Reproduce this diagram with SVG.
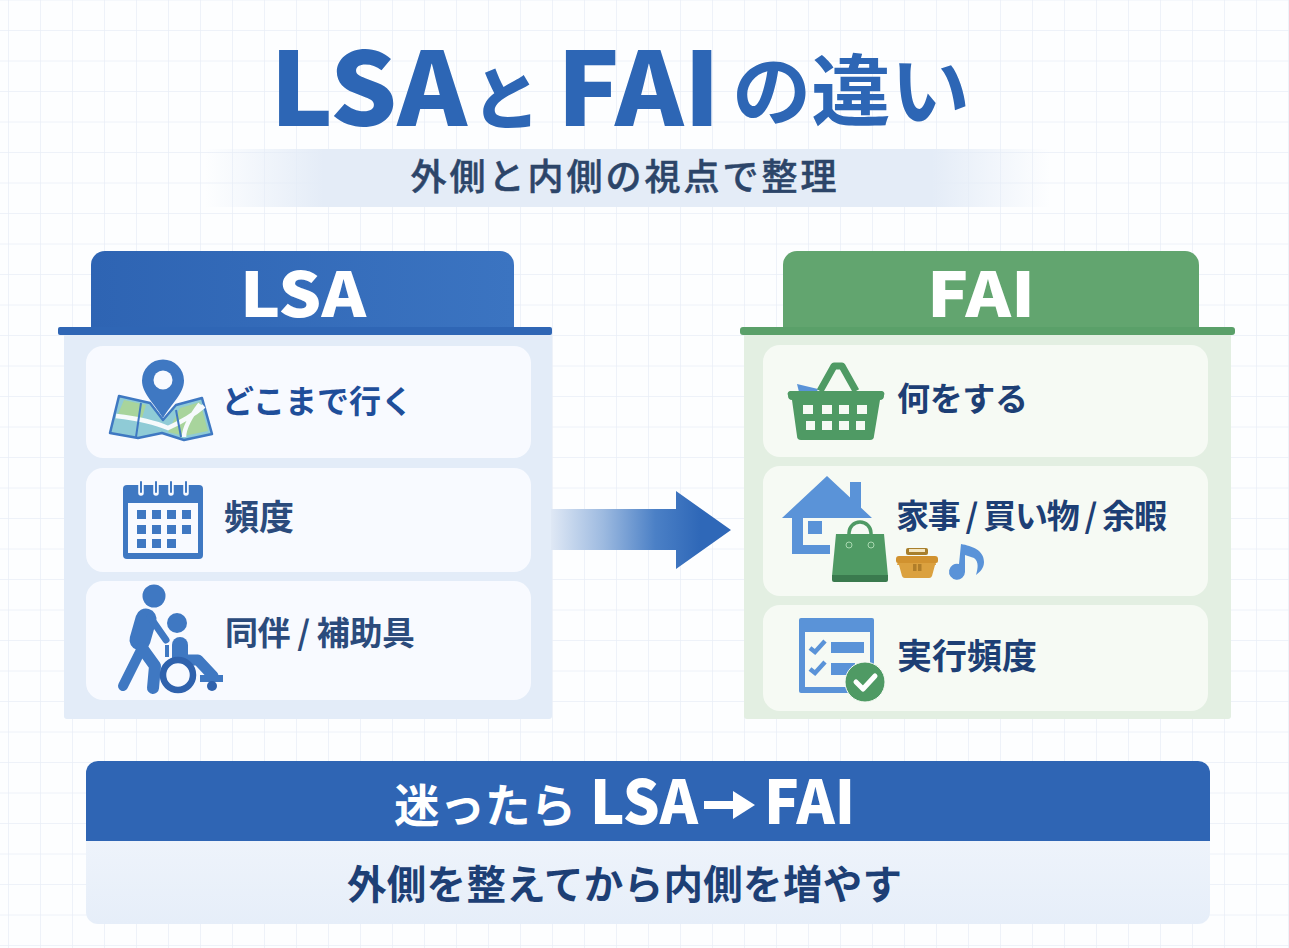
<svg xmlns="http://www.w3.org/2000/svg" width="1289" height="948" viewBox="0 0 1289 948">
<style>
text{font-family:"Noto Sans CJK JP","Noto Sans",sans-serif;font-weight:700}
.t{fill:#2d66b5;font-weight:900}.w{fill:#fff;font-weight:900}.item{fill:#f8faff}.gitem{fill:#f6faf4}
.b{fill:#3f78c2}.lb{fill:#5a93d8}.g{fill:#4f9a64}
.gl{stroke:#e9eef7;stroke-width:1.5;fill:none}
.bs{stroke:#3f78c2;fill:none;stroke-linecap:round;stroke-linejoin:round}
</style>
<defs>
<linearGradient id="band"><stop offset="0" stop-color="#e4ecf7" stop-opacity="0"/><stop offset=".14" stop-color="#e4ecf7"/><stop offset=".86" stop-color="#e4ecf7"/><stop offset="1" stop-color="#e4ecf7" stop-opacity="0"/></linearGradient>
<linearGradient id="shaft" gradientUnits="userSpaceOnUse" x1="551" y1="0" x2="700" y2="0"><stop offset="0" stop-color="#dfe8f5"/><stop offset=".35" stop-color="#9dbae0"/><stop offset=".7" stop-color="#4b80c6"/><stop offset="1" stop-color="#2f68b8"/></linearGradient>
<linearGradient id="bt" x1="0" y1="0" x2="1" y2="0"><stop offset="0" stop-color="#2e64b3"/><stop offset="1" stop-color="#3b74c1"/></linearGradient>
<linearGradient id="lp" x1="0" y1="0" x2="0" y2="1"><stop offset="0" stop-color="#eff4fb"/><stop offset="1" stop-color="#e6eef9"/></linearGradient>
<pattern id="grid" patternUnits="userSpaceOnUse" x="8" y="0.5" width="32" height="30.5"><path class="gl" d="M0 0V30.5M0 30.5H32"/></pattern>
</defs>
<rect width="1289" height="948" fill="#fdfeff"/>
<rect width="1289" height="948" fill="url(#grid)"/>

<g id="title">
<text class="t" x="270" y="126" font-size="102" textLength="197" lengthAdjust="spacingAndGlyphs">LSA</text>
<text class="t" x="472" y="124" font-size="68">と</text>
<text class="t" x="557" y="126" font-size="102" textLength="163" lengthAdjust="spacingAndGlyphs">FAI</text>
<text class="t" x="732" y="120" font-size="78" textLength="238" lengthAdjust="spacingAndGlyphs" style="font-weight:700">の違い</text>
</g>
<g id="subtitle">
<rect x="205" y="149" width="845" height="58" fill="url(#band)"/>
<text x="625" y="190" font-size="36" fill="#2c4569" stroke="#2c4569" stroke-width=".5" text-anchor="middle" letter-spacing="3" style="font-weight:500">外側と内側の視点で整理</text>
</g>

<g id="lsa-panel">
<rect x="64" y="333" width="488" height="386" rx="3" fill="#e3ecf8"/>
<path d="M91 328V265a14 14 0 0 1 14-14H500a14 14 0 0 1 14 14V328Z" fill="url(#bt)"/>
<rect x="58" y="327" width="494" height="8" rx="2" fill="#2f66b5"/>
<text class="w" x="303" y="317" font-size="62" text-anchor="middle" textLength="126" lengthAdjust="spacingAndGlyphs">LSA</text>
</g>
<g id="lsa-where">
<rect class="item" x="86" y="346" width="445" height="112" rx="17"/>
<path d="M119 396L150 403 163 420 176 405 202 398 212 434 184 440 162 433 138 438 110 433Z" fill="#8fcbd6" stroke="#3f78c2" stroke-width="2.500" stroke-linejoin="round"/>
<path d="M124 400L146 405 142 418 118 414ZM168 432L180 408 200 402 208 431 184 436Z" fill="#a8d49c"/>
<path d="M116 416Q150 420 168 428 190 418 204 406M184 437Q184 425 200 404" fill="none" stroke="#f6fafc" stroke-width="4.500"/>
<path d="M141 403L136 437M176 410L181 437" stroke="#3f78c2" stroke-width="2"/>
<path d="M163 418C155 404 142 394 142 380.500a21 21 0 0 1 42 0C184 394 171 404 163 418Z" class="b"/><circle cx="163" cy="380" r="9.500" fill="#f8faff"/>
<text x="222" y="413" font-size="32" fill="#1f4e9a">どこまで行く</text>
</g>
<g id="lsa-frequency">
<rect class="item" x="86" y="468" width="445" height="104" rx="17"/>
<rect class="b" x="123" y="485" width="80" height="74" rx="4"/><rect x="128" y="503" width="70" height="50" fill="#f8faff"/>
<g class="b"><rect x="137" y="510" width="9" height="9"/><rect x="152" y="510" width="9" height="9"/><rect x="167" y="510" width="9" height="9"/><rect x="182" y="510" width="9" height="9"/><rect x="137" y="525" width="9" height="9"/><rect x="152" y="525" width="9" height="9"/><rect x="167" y="525" width="9" height="9"/><rect x="182" y="525" width="9" height="9"/><rect x="137" y="539" width="9" height="9"/><rect x="152" y="539" width="9" height="9"/><rect x="167" y="539" width="9" height="9"/></g>
<path d="M141 483V493M156 483V493M171 483V493M186 483V493" stroke="#f8faff" stroke-width="5.500" stroke-linecap="round"/><path d="M141 482V492M156 482V492M171 482V492M186 482V492" stroke="#3f78c2" stroke-width="2" stroke-linecap="round"/>
<text x="224" y="530" font-size="35" fill="#2b4b7c">頻度</text>
</g>
<g id="lsa-companion">
<rect class="item" x="86" y="581" width="445" height="119" rx="17"/>
<circle class="b" cx="154" cy="596" r="11.500"/>
<path class="bs" d="M146 619L140 640" stroke-width="21"/>
<path class="bs" d="M150 617L166 640" stroke-width="7"/>
<path class="bs" d="M142 648L123 686" stroke-width="10"/>
<path class="bs" d="M142 648L155 666 153 688" stroke-width="12"/>
<circle class="b" cx="177" cy="623" r="10"/>
<path class="bs" d="M180 645V658" stroke-width="16"/>
<path class="bs" d="M180 660H198L213 676" stroke-width="11"/>
<rect class="b" x="165" y="645" width="4" height="12"/>
<circle cx="178" cy="675" r="15" fill="#f8faff" stroke="#2f62ad" stroke-width="6.500"/>
<rect class="b" x="200" y="675" width="23" height="7"/><circle cx="212" cy="686" r="5" fill="#2f62ad"/>
<text x="225" y="645" font-size="33" fill="#2b4b7c" textLength="190" lengthAdjust="spacing">同伴 / 補助具</text>
</g>

<g id="fai-panel">
<rect x="744" y="333" width="487" height="386" rx="3" fill="#e3efe2"/>
<path d="M783 328V265a14 14 0 0 1 14-14H1185a14 14 0 0 1 14 14V328Z" fill="#62a56f"/>
<rect x="740" y="327" width="495" height="8" rx="3" fill="#5aa069"/>
<text class="w" x="981" y="317" font-size="62" text-anchor="middle" textLength="108" lengthAdjust="spacingAndGlyphs">FAI</text>
</g>
<g id="fai-what">
<rect class="gitem" x="763" y="345" width="445" height="112" rx="17"/>
<path class="lb" d="M797 384L818 389 816 394 799 392Z"/>
<path d="M820 391L834 366H842L856 391" fill="none" stroke="#4f9a64" stroke-width="7" stroke-linejoin="round"/>
<path class="g" d="M791 391H881a3 3 0 0 1 3 4.500 4 4 0 0 1-4 4.500L874 436a4 4 0 0 1-4 4H801a4 4 0 0 1-4-4L792 400a4 4 0 0 1-4-4.500 3 3 0 0 1 3-4.500Z"/>
<g fill="#f6faf4"><rect x="803" y="405" width="10" height="9"/><rect x="822" y="405" width="10" height="9"/><rect x="839" y="405" width="10" height="9"/><rect x="857" y="405" width="10" height="9"/><rect x="806" y="421" width="9" height="9"/><rect x="822" y="421" width="10" height="9"/><rect x="839" y="421" width="10" height="9"/><rect x="856" y="421" width="9" height="9"/></g>
<text x="897" y="411" font-size="33" fill="#1d3f75" textLength="131" lengthAdjust="spacing">何をする</text>
</g>
<g id="fai-domain">
<rect class="gitem" x="763" y="466" width="445" height="130" rx="17"/>
<rect class="lb" x="850" y="482" width="11" height="34"/>
<path class="lb" d="M782 518L827 476 872 518H803V545H830V554H792V518Z"/>
<rect class="lb" x="808" y="521" width="14" height="13"/>
<path d="M849 540V533a11 11 0 0 1 22 0V540" fill="none" stroke="#4f9a64" stroke-width="3.500"/>
<path class="g" d="M836 534H884L888 576H832Z"/><path d="M832 575H888V580a2 2 0 0 1-2 2H834a2 2 0 0 1-2-2Z" fill="#3a7a4e"/>
<circle cx="849" cy="545" r="3" fill="none" stroke="#a8d8b0" stroke-width="1"/><circle cx="871" cy="545" r="3" fill="none" stroke="#a8d8b0" stroke-width="1"/>
<rect x="906" y="548" width="22" height="7" rx="2" fill="#a87f2c"/><rect x="909" y="549" width="16" height="3" fill="#f3e5c0"/>
<path d="M899 558H935L936 565H897ZM899 565H935L932 576a3 3 0 0 1-3 2H905a3 3 0 0 1-3-2Z" fill="#dba13f"/><path d="M896 559a3 3 0 0 1 3-3H935a3 3 0 0 1 3 3V561a2 2 0 0 1-2 2H898a2 2 0 0 1-2-2Z" fill="#d1922f"/>
<rect x="913" y="564" width="3.500" height="7" fill="#b07e2a"/><rect x="918" y="564" width="3.500" height="7" fill="#b07e2a"/>
<path d="M961 544C972 546 984 550 984 562 984 568 980 572 976 575 978 568 979 562 974 558L965 555V572A8 8 0 1 1 959 564Z" fill="#5a93d8"/>
<text x="896" y="528" font-size="33" fill="#1d3f75" textLength="271" lengthAdjust="spacing">家事 / 買い物 / 余暇</text>
</g>
<g id="fai-frequency">
<rect class="gitem" x="763" y="605" width="445" height="106" rx="17"/>
<rect class="lb" x="799" y="618" width="75" height="75" rx="2"/>
<rect x="805" y="632" width="65" height="55" fill="#f6faf4"/>
<rect class="lb" x="831" y="642" width="33" height="11"/><rect class="lb" x="831" y="663" width="24" height="12"/>
<path d="M810 648L815 652 825 641M810 669L815 673 825 662" fill="none" stroke="#5a93d8" stroke-width="4.500"/>
<circle class="g" cx="865" cy="682" r="20" stroke="#f6faf4" stroke-width="1"/>
<path d="M856 682L863 689 875 676" fill="none" stroke="#fff" stroke-width="5" stroke-linecap="round" stroke-linejoin="round"/>
<text x="897" y="669" font-size="35" fill="#1d3f75">実行頻度</text>
</g>

<g id="connectors">
<path d="M551 509H676V491L731 530 676 569V550H551Z" fill="url(#shaft)"/>
</g>

<g id="summary">
<rect x="86" y="830" width="1124" height="94" rx="12" fill="url(#lp)"/>
<path d="M86 841V773a12 12 0 0 1 12-12H1198a12 12 0 0 1 12 12V841Z" fill="#2f65b4"/>
<text class="w" x="394" y="822" font-size="46" textLength="182" lengthAdjust="spacingAndGlyphs" style="font-weight:700">迷ったら</text>
<text class="w" x="590" y="824" font-size="60" textLength="108" lengthAdjust="spacingAndGlyphs">LSA</text>
<path d="M704 801H733V791L755 805 733 819V809H704Z" fill="#fff"/>
<text class="w" x="764" y="824" font-size="60" textLength="91" lengthAdjust="spacingAndGlyphs">FAI</text>
<text x="347" y="899" font-size="39.500" fill="#1d3f75" textLength="555" lengthAdjust="spacing">外側を整えてから内側を増やす</text>
</g>
</svg>
